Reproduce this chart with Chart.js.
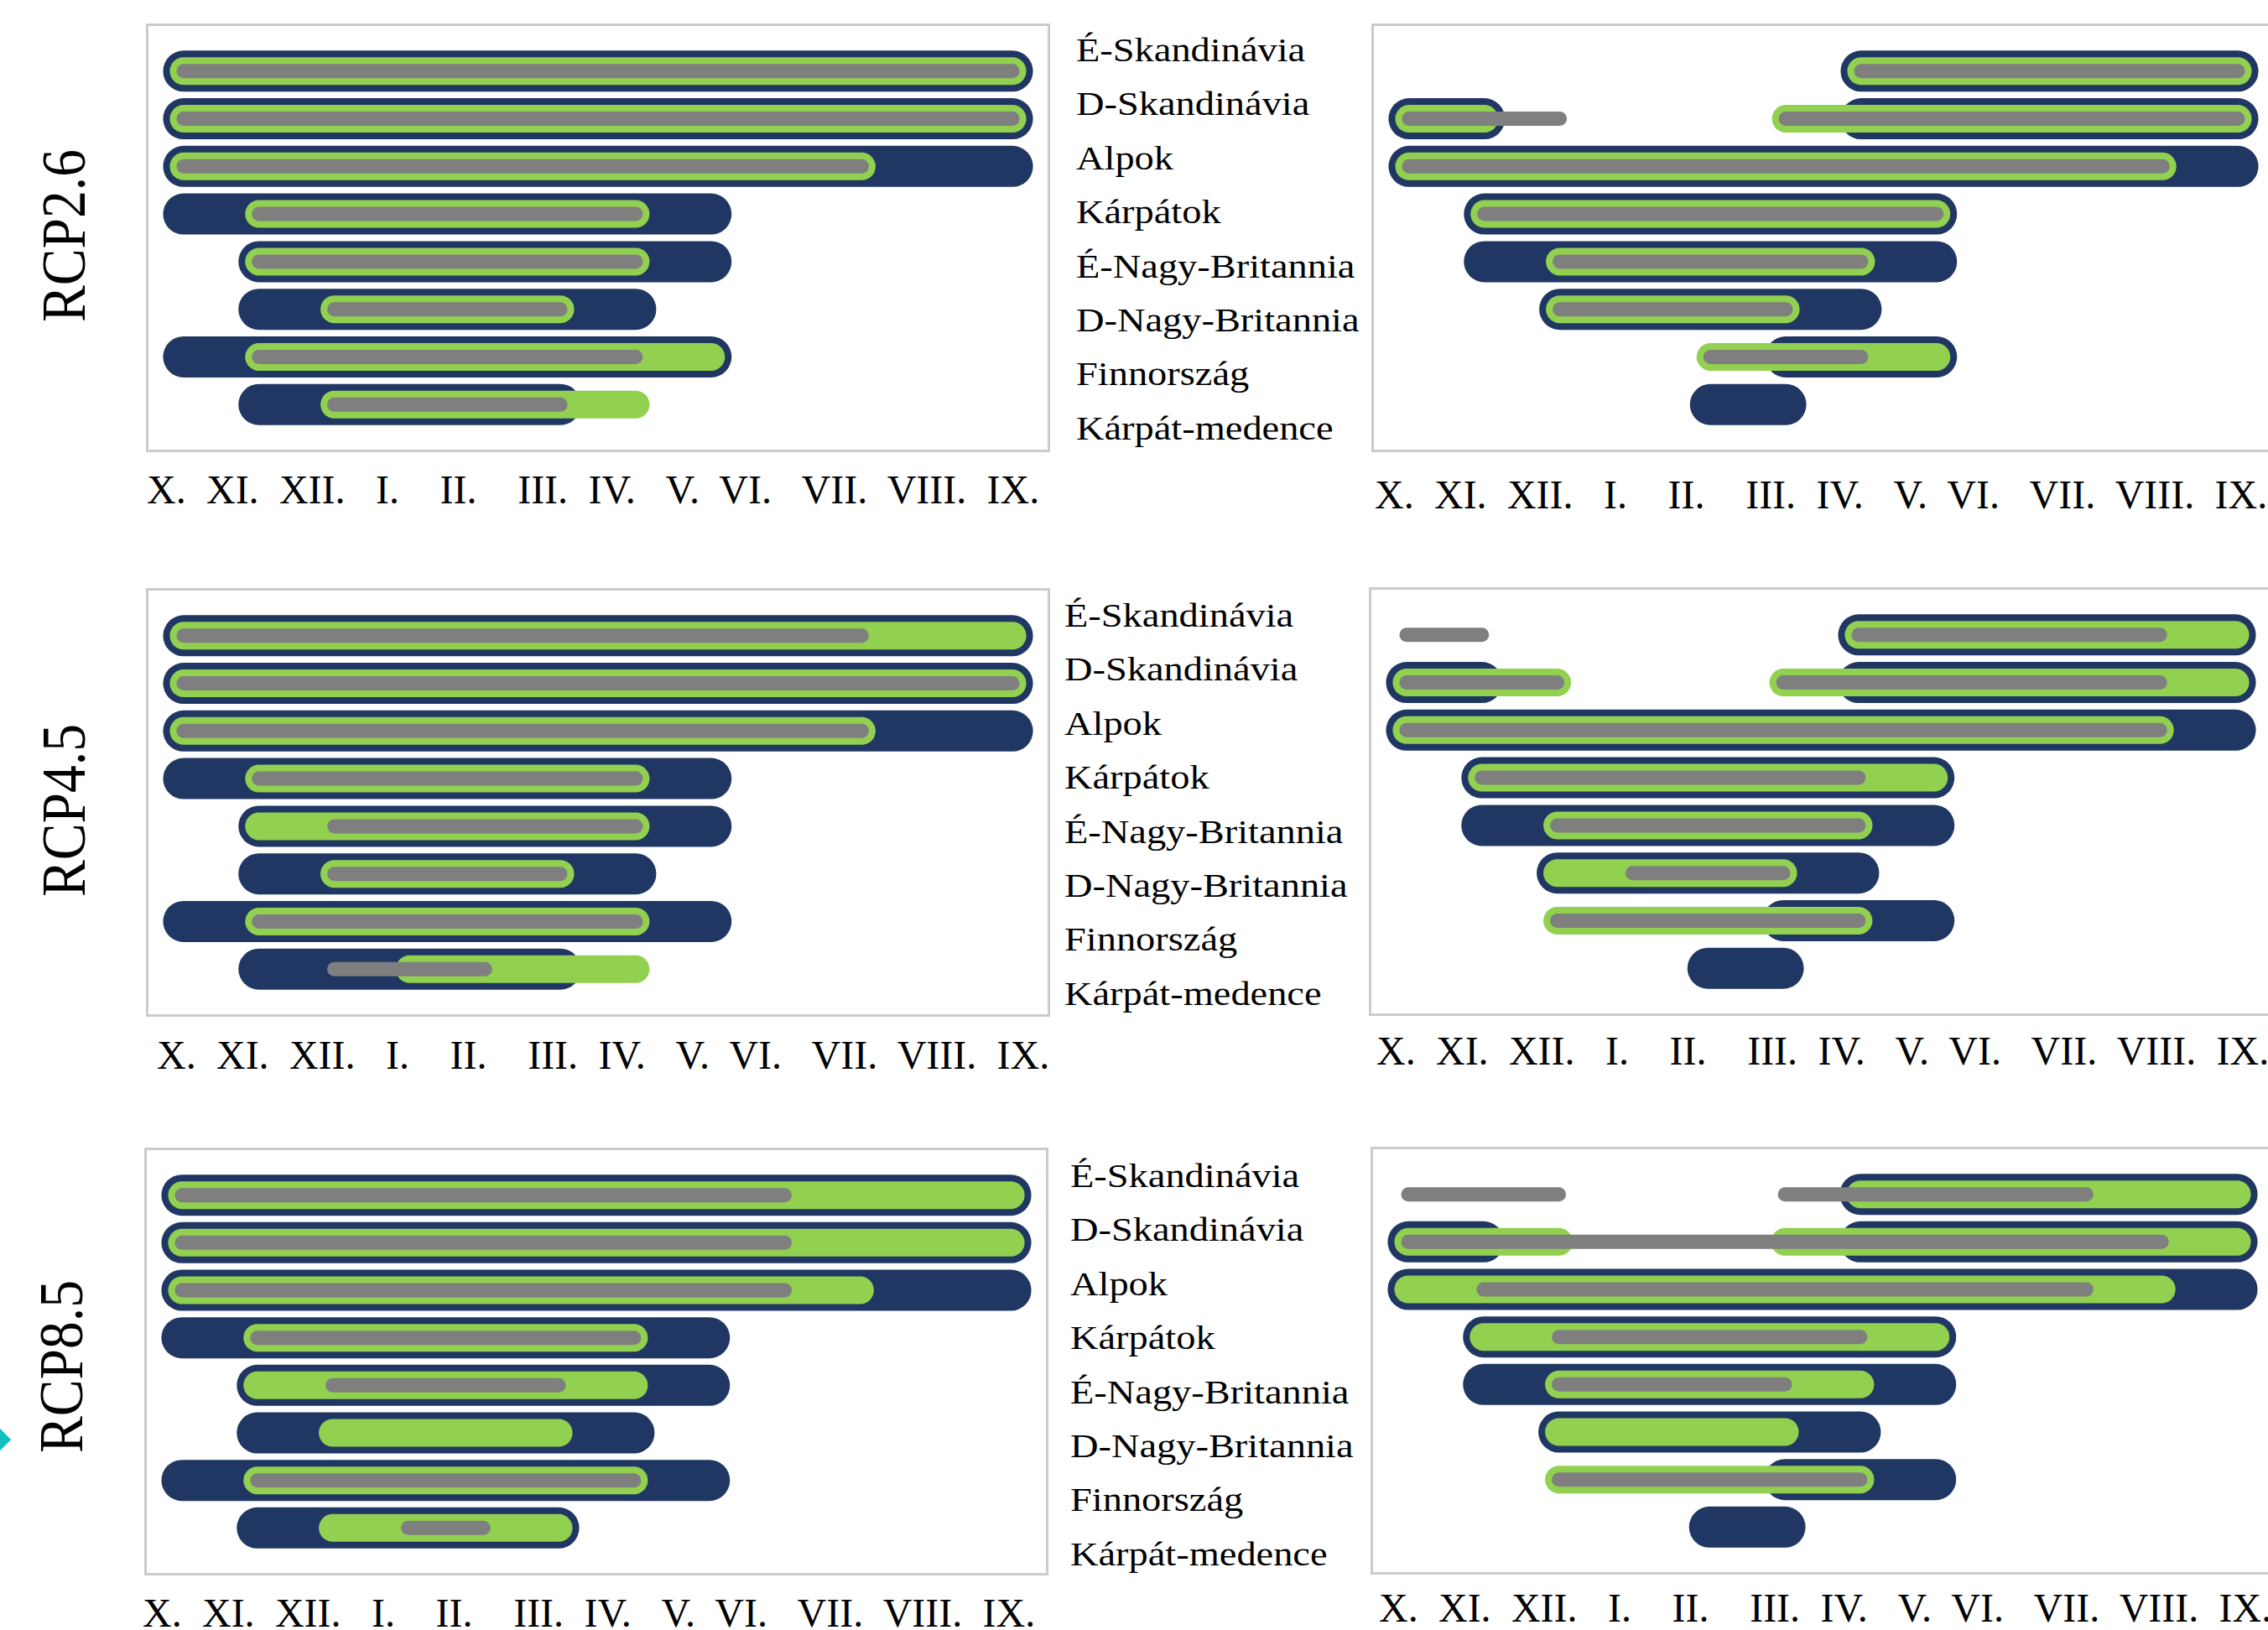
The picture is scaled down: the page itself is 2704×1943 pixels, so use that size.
<!DOCTYPE html>
<html lang="hu">
<head>
<meta charset="utf-8">
<title>Hóborítás időszakai régiónként (RCP2.6, RCP4.5, RCP8.5)</title>
<script src="https://cdn.jsdelivr.net/npm/chart.js@4.4.1/dist/chart.umd.min.js"></script>
<style>
  html, body { margin: 0; padding: 0; background: #ffffff; }
  body {
    width: 2704px; height: 1943px; overflow: hidden; position: relative;
    font-family: 'Liberation Serif', 'Times New Roman', serif; color: #000;
  }
  .panel { position: absolute; }
  .panel canvas { display: block; }
  .months {
    position: absolute; font-size: 48px; line-height: 53px; white-space: pre;
    word-spacing: 0.15px;
  }
  .regions {
    position: absolute; font-size: 40px; line-height: 64.4px; white-space: nowrap;
    transform: scaleX(1.16); transform-origin: 0 0;
  }
  .regions div { height: 64.4px; }
  .scenario {
    position: absolute; font-size: 74px; line-height: 74px; white-space: nowrap;
    transform: translate(-50%, -50%) rotate(-90deg) scale(0.887, 1);
  }
  .marker {
    position: absolute; width: 37px; height: 37px; background: #12c0c0;
    transform: translate(-50%, -50%) rotate(45deg);
  }
</style>
</head>
<body>

<script>
// ---- Labels ----
const regions = ['É-Skandinávia', 'D-Skandinávia', 'Alpok', 'Kárpátok',
                 'É-Nagy-Britannia', 'D-Nagy-Britannia', 'Finnország', 'Kárpát-medence'];
const monthLabels = ['X.', 'XI.', 'XII.', 'I.', 'II.', 'III.', 'IV.', 'V.', 'VI.', 'VII.', 'VIII.', 'IX.'];
const scenarios = ['RCP2.6', 'RCP4.5', 'RCP8.5'];

// ---- Periods per region: month index (1 = X., 12 = IX.), [start, end] segments ----
// RCP2.6, left panel
const rcp26LeftNavy  = [[[1,12]], [[1,12]], [[1,12]], [[1,8]], [[2,8]], [[2,7]], [[1,8]], [[2,6]]];
const rcp26LeftGreen = [[[1,12]], [[1,12]], [[1,10]], [[2,7]], [[2,7]], [[3,6]], [[2,8]], [[3,7]]];
const rcp26LeftGray  = [[[1,12]], [[1,12]], [[1,10]], [[2,7]], [[2,7]], [[3,6]], [[2,7]], [[3,6]]];
// RCP2.6, right panel
const rcp26RightNavy  = [[[7,12]], [[1,2],[7,12]], [[1,12]], [[2,8]], [[2,8]], [[3,7]], [[6,8]], [[5,6]]];
const rcp26RightGreen = [[[7,12]], [[1,2],[6,12]], [[1,11]], [[2,8]], [[3,7]], [[3,6]], [[5,8]], []];
const rcp26RightGray  = [[[7,12]], [[1,3],[6,12]], [[1,11]], [[2,8]], [[3,7]], [[3,6]], [[5,7]], []];
// RCP4.5, left panel
const rcp45LeftNavy  = [[[1,12]], [[1,12]], [[1,12]], [[1,8]], [[2,8]], [[2,7]], [[1,8]], [[2,6]]];
const rcp45LeftGreen = [[[1,12]], [[1,12]], [[1,10]], [[2,7]], [[2,7]], [[3,6]], [[2,7]], [[4,7]]];
const rcp45LeftGray  = [[[1,10]], [[1,12]], [[1,10]], [[2,7]], [[3,7]], [[3,6]], [[2,7]], [[3,5]]];
// RCP4.5, right panel
const rcp45RightNavy  = [[[7,12]], [[1,2],[7,12]], [[1,12]], [[2,8]], [[2,8]], [[3,7]], [[6,8]], [[5,6]]];
const rcp45RightGreen = [[[7,12]], [[1,3],[6,12]], [[1,11]], [[2,8]], [[3,7]], [[3,6]], [[3,7]], []];
const rcp45RightGray  = [[[1,2],[7,11]], [[1,3],[6,11]], [[1,11]], [[2,7]], [[3,7]], [[4,6]], [[3,7]], []];
// RCP8.5, left panel
const rcp85LeftNavy  = [[[1,12]], [[1,12]], [[1,12]], [[1,8]], [[2,8]], [[2,7]], [[1,8]], [[2,6]]];
const rcp85LeftGreen = [[[1,12]], [[1,12]], [[1,10]], [[2,7]], [[2,7]], [[3,6]], [[2,7]], [[3,6]]];
const rcp85LeftGray  = [[[1,9]], [[1,9]], [[1,9]], [[2,7]], [[3,6]], [], [[2,7]], [[4,5]]];
// RCP8.5, right panel
const rcp85RightNavy  = [[[7,12]], [[1,2],[7,12]], [[1,12]], [[2,8]], [[2,8]], [[3,7]], [[6,8]], [[5,6]]];
const rcp85RightGreen = [[[7,12]], [[1,3],[6,12]], [[1,11]], [[2,8]], [[3,7]], [[3,6]], [[3,7]], []];
const rcp85RightGray  = [[[1,3],[6,10]], [[1,11]], [[2,10]], [[3,7]], [[3,6]], [], [[3,7]], []];

// ---- Styling ----
const NAVY = '#213763', GREEN = '#92d050', GRAY = '#7f7f7f';

// Light grey frame around each plot area
const framePlugin = {
  id: 'frame',
  beforeDraw(chart) {
    const { ctx, chartArea: a } = chart;
    ctx.save();
    ctx.strokeStyle = '#cbcbcb';
    ctx.lineWidth = 3;
    ctx.strokeRect(a.left + 1.5, a.top + 1.5, a.width - 3, a.height - 3);
    ctx.restore();
  }
};

function addEl(cls, css, text) {
  const el = document.createElement('div');
  el.className = cls;
  Object.assign(el.style, css);
  if (text !== undefined) el.textContent = text;
  document.body.appendChild(el);
  return el;
}

function buildPanel(box, navy, green, gray) {
  const wrap = addEl('panel', { left: box.x + 'px', top: box.y + 'px', width: box.w + 'px', height: box.h + 'px' });
  const canvas = document.createElement('canvas');
  canvas.width = box.w; canvas.height = box.h;
  canvas.style.width = box.w + 'px'; canvas.style.height = box.h + 'px';
  wrap.appendChild(canvas);

  // Each period is a thick line with round caps; grey on top, navy underneath
  const layers = [
    { rows: gray,  color: GRAY,  width: 17, order: 0 },
    { rows: green, color: GREEN, width: 33, order: 1 },
    { rows: navy,  color: NAVY,  width: 49, order: 2 }
  ];
  const datasets = [];
  layers.forEach(layer => {
    layer.rows.forEach((segments, i) => {
      segments.forEach(([from, to]) => {
        datasets.push({
          label: regions[i],
          data: [{ x: from, y: i + 1 }, { x: to, y: i + 1 }],
          borderColor: layer.color,
          borderWidth: layer.width,
          borderCapStyle: 'round',
          pointRadius: 0,
          pointHoverRadius: 0,
          fill: false,
          tension: 0,
          order: layer.order
        });
      });
    });
  });

  new Chart(canvas, {
    type: 'line',
    data: { datasets },
    options: {
      responsive: false,
      animation: false,
      devicePixelRatio: 1,
      events: [],
      layout: { padding: 0 },
      plugins: { legend: { display: false }, tooltip: { enabled: false } },
      scales: {
        x: { type: 'linear', min: 0.5, max: 12.5, display: false },
        y: { type: 'linear', min: 0, max: 9, reverse: true, display: false }
      }
    },
    plugins: [framePlugin]
  });
}

// Month axis line: labels separated by runs of spaces, as in the typed axis text
const monthSpaces = [2, 2, 3, 4, 4, 2, 3, 2, 3, 2, 2];
function buildMonths(x, y) {
  const text = monthLabels.map((m, i) => m + (i < monthSpaces.length ? ' '.repeat(monthSpaces[i]) : '')).join('');
  addEl('months', { left: x + 'px', top: y + 'px' }, text);
}

function buildRegions(x, y) {
  const block = addEl('regions', { left: x + 'px', top: y + 'px' });
  regions.forEach(r => {
    const d = document.createElement('div');
    d.textContent = r;
    block.appendChild(d);
  });
}

// ---- Layout: three scenario rows, two panels each ----
buildPanel({ x: 174,  y: 28,   w: 1078, h: 511 }, rcp26LeftNavy,  rcp26LeftGreen,  rcp26LeftGray);
buildPanel({ x: 1635, y: 28,   w: 1078, h: 511 }, rcp26RightNavy, rcp26RightGreen, rcp26RightGray);
buildPanel({ x: 174,  y: 701,  w: 1078, h: 511 }, rcp45LeftNavy,  rcp45LeftGreen,  rcp45LeftGray);
buildPanel({ x: 1632, y: 700,  w: 1078, h: 511 }, rcp45RightNavy, rcp45RightGreen, rcp45RightGray);
buildPanel({ x: 172,  y: 1368, w: 1078, h: 510 }, rcp85LeftNavy,  rcp85LeftGreen,  rcp85LeftGray);
buildPanel({ x: 1634, y: 1367, w: 1078, h: 510 }, rcp85RightNavy, rcp85RightGreen, rcp85RightGray);

buildMonths(175, 557);
buildMonths(1639, 563);
buildMonths(187, 1231);
buildMonths(1641, 1226);
buildMonths(170, 1896);
buildMonths(1644, 1890);

buildRegions(1283, 28);
buildRegions(1269, 702);
buildRegions(1276, 1370);

addEl('scenario', { left: '76px', top: '281px' },  scenarios[0]);
addEl('scenario', { left: '76px', top: '966px' },  scenarios[1]);
addEl('scenario', { left: '73px', top: '1629px' }, scenarios[2]);

addEl('marker', { left: '-13px', top: '1716px' });
</script>
</body>
</html>
